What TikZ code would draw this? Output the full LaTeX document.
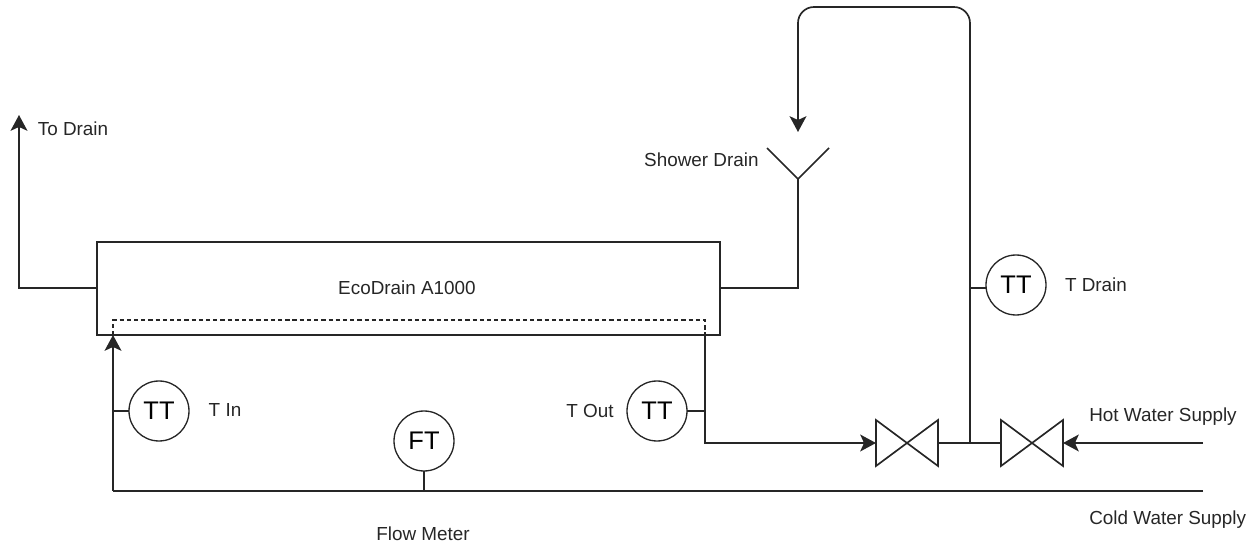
\documentclass[tikz,border=0pt]{standalone}
\usepackage{fontspec}
\setmainfont{Liberation Sans}
\usetikzlibrary{arrows.meta}
\tikzset{
  pipe/.style={line width=0.95pt,black!85},
  flow/.style={pipe,-{Stealth[inset=2.2pt,length=9pt,width=9.6pt]}},
  tank/.style={draw,line width=0.95pt,black!85,minimum width=12.46cm,minimum height=1.86cm,inner sep=0pt,outer sep=0pt},
  instr/.style={draw,circle,line width=0.75pt,black!85,minimum size=1.2cm,inner sep=0pt,outer sep=0pt,text=black,font=\fontsize{14.5}{16}\selectfont},
  valvebox/.style={minimum width=1.24cm,minimum height=0.92cm,inner sep=0pt,outer sep=0pt},
  tag/.style={font=\fontsize{10.75}{12}\selectfont,text=black!85,inner sep=0pt},
}
\begin{document}
\begin{tikzpicture}[x=0.02cm,y=-0.02cm]
\useasboundingbox (0,0) rectangle (1259,550);
% tank and coil
\node[tank] (tank_) at (408.5,288.5) {};
\node[tag] (tank_lbl) at (407,288) {EcoDrain A1000};
\coordinate (coil_in) at (113,335);
\coordinate (coil_nw) at (113,320);
\coordinate (coil_ne) at (705,320);
\coordinate (coil_out) at (705,335);
\draw[pipe,line width=0.8pt,dash pattern=on 2.4pt off 1.7pt] (coil_in) -- (coil_nw) -- (coil_ne) -- (coil_out);
% instruments
\node[instr] (tt_in) at (159,411) {TT};
\node[instr] (ft_) at (424,441) {FT};
\node[instr] (tt_out) at (657,411) {TT};
\node[instr] (tt_drain) at (1016,285) {TT};
% valves
\node[valvebox] (valve_a) at (907,443) {};
\node[valvebox] (valve_b) at (1032,443) {};
\draw[pipe,line join=miter] (valve_a.north west) -- (valve_a.south east) -- (valve_a.north east) -- (valve_a.south west) -- cycle;
\draw[pipe,line join=miter] (valve_b.north west) -- (valve_b.south east) -- (valve_b.north east) -- (valve_b.south west) -- cycle;
% shower drain
\coordinate (drain_l) at (767,148);
\coordinate (drain_b) at (798,179);
\coordinate (drain_r) at (829,148);
\draw[pipe] (drain_l) -- (drain_b) -- (drain_r);
% free ends
\coordinate (to_drain) at (19,115);
\coordinate (hot_in) at (1203,443);
\coordinate (cold_in) at (1203,491);
\coordinate (cold_w) at (113,491);
\coordinate (shower_head) at (798,132);
\coordinate (tee_c) at (970,443);
\coordinate (stem_ft) at (424,491);
\coordinate (stem_in) at (113,411);
\coordinate (stem_out) at (705,411);
\coordinate (stem_drain) at (970,288);
% pipes
\draw[flow] (tank_.west |- 0,288) -| (to_drain);
\draw[pipe] (tank_.east |- 0,288) -| (drain_b);
\draw[pipe] (cold_in) -- (cold_w);
\draw[flow] (cold_w) -- (coil_in);
\draw[flow] (coil_out) |- (valve_a.west);
\draw[flow] (hot_in) -- (valve_b.east);
\draw[pipe] (valve_a.east) -- (valve_b.west);
\draw[flow,rounded corners=0.32cm] (tee_c) -- (970,7) -- (798,7) -- (shower_head);
\draw[pipe] (ft_) -- (stem_ft);
\draw[pipe] (tt_in) -- (stem_in);
\draw[pipe] (tt_out) -- (stem_out);
\draw[pipe] (tt_drain.west |- stem_drain) -- (stem_drain);
% labels
\node[tag] (lbl_todrain) at (73,129) {To Drain};
\node[tag,anchor=east] (lbl_shower) at (759,160) {Shower Drain};
\node[tag] (lbl_tdrain) at (1096,285) {T Drain};
\node[tag] (lbl_tin) at (225,410) {T In};
\node[tag] (lbl_tout) at (590,411) {T Out};
\node[tag] (lbl_flow) at (423,534) {Flow Meter};
\node[tag,anchor=west] (lbl_hot) at (1089,417) {Hot Water Supply};
\node[tag,anchor=west] (lbl_cold) at (1089,520) {Cold Water Supply};
\end{tikzpicture}
\end{document}
